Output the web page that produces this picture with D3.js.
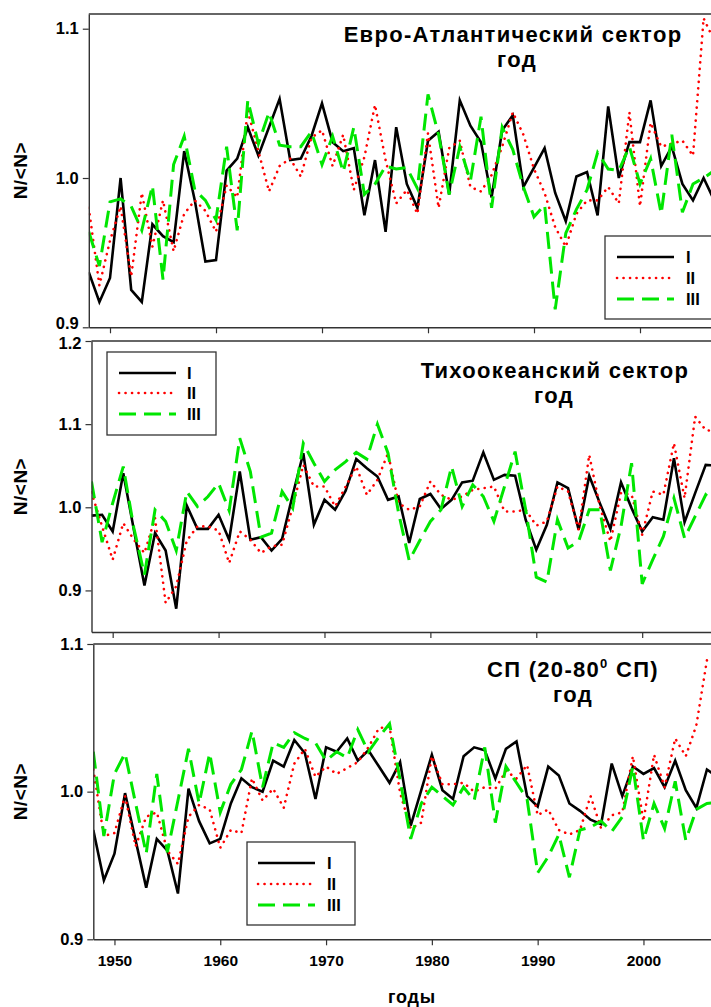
<!DOCTYPE html>
<html>
<head>
<meta charset="utf-8">
<script src="https://cdn.jsdelivr.net/npm/d3@7"></script>
<style>
  html, body { margin: 0; padding: 0; background: #fff; }
  svg { display: block; }
  text { font-family: "Liberation Sans", Arial, sans-serif; font-weight: bold; fill: #000; }
</style>
</head>
<body>
<svg id="chart" width="711" height="1007"></svg>
<script>
// ---- data ----
const years = [1948,1949,1950,1951,1952,1953,1954,1955,1956,1957,1958,1959,1960,1961,1962,1963,1964,1965,1966,1967,
  1968,1969,1970,1971,1972,1973,1974,1975,1976,1977,1978,1979,1980,1981,1982,1983,1984,1985,1986,1987,
  1988,1989,1990,1991,1992,1993,1994,1995,1996,1997,1998,1999,2000,2001,2002,2003,2004,2005,2006,2007];

const seriesNames = ["I", "II", "III"];

// Евро-Атлантический сектор
const euroI = [0.937,0.917,0.933,1.000,0.925,0.917,0.969,0.961,0.957,1.018,0.985,0.944,0.945,1.005,1.013,1.034,1.015,1.034,1.053,1.012,
  1.013,1.028,1.050,1.024,1.018,1.020,0.975,1.012,0.964,1.034,0.996,0.980,1.025,1.031,0.989,1.052,1.035,1.024,0.987,1.032,
  1.042,0.994,1.007,1.020,0.990,0.971,1.001,1.004,0.975,1.048,1.000,1.024,1.024,1.052,1.008,1.021,0.996,0.985,1.000,0.985];
const euroII = [0.980,0.928,0.958,0.981,0.934,0.990,0.954,0.985,0.951,0.976,0.985,0.978,0.964,0.995,0.987,1.045,1.018,0.991,1.008,1.013,
  1.001,1.027,1.032,1.008,1.029,0.992,1.014,1.049,1.012,0.983,0.992,0.976,1.030,0.980,1.020,1.025,0.994,0.991,1.002,1.021,
  1.044,1.029,1.006,0.990,0.967,0.954,0.976,0.985,0.985,0.994,0.983,1.044,0.981,1.037,1.021,1.023,1.025,1.015,1.107,1.092];
const euroIII = [0.964,0.941,0.984,0.986,0.981,0.965,0.995,0.932,1.009,1.028,0.992,0.985,0.972,1.021,0.965,1.052,1.023,1.044,1.022,1.021,
  1.021,1.031,1.009,1.028,1.004,1.034,0.989,0.996,1.008,1.006,1.007,0.993,1.056,1.029,0.989,1.021,0.998,1.041,0.980,1.034,
  1.019,0.994,0.974,0.982,0.912,0.963,0.979,0.992,1.017,1.006,1.005,1.021,0.996,1.013,0.976,1.029,0.977,0.996,1.000,1.005];

// Тихоокеанский сектор
const pacI = [0.990,0.991,0.971,1.041,0.973,0.906,0.969,0.948,0.878,1.002,0.974,0.974,0.991,0.961,1.043,0.961,0.964,0.948,0.962,1.015,
  1.065,0.979,1.009,0.997,1.020,1.058,1.047,1.037,1.009,1.013,0.957,1.010,1.016,0.998,1.009,1.030,1.032,1.066,1.033,1.039,
  1.038,0.985,0.949,0.979,1.030,1.023,0.973,1.038,1.005,0.974,1.030,0.999,0.971,0.988,0.985,1.059,0.982,1.017,1.051,1.050];
const pacII = [1.018,0.977,0.937,0.981,0.961,0.945,0.987,0.885,0.905,0.960,0.977,0.977,0.972,0.933,0.971,0.961,0.945,0.953,0.955,1.001,
  1.051,1.025,1.025,1.001,1.025,1.049,1.015,1.033,1.065,1.005,0.997,1.001,1.031,1.015,1.009,1.013,1.021,1.023,1.025,0.995,
  0.995,0.997,0.978,0.983,1.025,1.019,0.973,1.063,1.001,0.959,1.017,1.015,0.967,1.019,1.015,1.077,1.011,1.109,1.093,1.091];
const pacIII = [1.031,0.958,1.005,1.049,0.975,0.919,0.997,0.983,0.948,1.019,1.001,1.013,1.029,0.996,1.083,1.043,0.964,0.969,1.019,0.999,
  1.077,1.053,1.031,1.045,1.055,1.066,1.058,1.100,1.065,0.993,0.936,0.960,0.983,0.997,1.049,1.001,1.027,1.013,0.983,1.025,
  1.067,0.997,0.916,0.910,0.985,0.951,0.959,0.997,0.997,0.924,0.977,1.053,0.908,0.937,0.965,1.011,0.963,0.989,1.015,1.003];

// СП (20-80° СП)
const nhI = [0.974,0.940,0.958,0.999,0.967,0.935,0.968,0.960,0.931,1.002,0.980,0.965,0.968,0.992,1.009,1.003,1.000,1.021,1.017,1.035,
  1.026,0.995,1.030,1.027,1.036,1.021,1.028,1.017,1.006,1.020,0.977,1.001,1.025,1.001,0.995,1.024,1.030,1.028,1.009,1.029,
  1.034,0.997,0.990,1.017,1.011,0.992,0.987,0.981,0.978,1.019,0.997,1.017,1.012,1.016,1.003,1.021,1.001,0.989,1.015,1.010];
const nhII = [1.015,0.970,0.972,0.997,0.963,0.983,0.986,0.960,0.951,0.983,0.991,0.988,0.962,0.974,0.972,1.009,0.994,1.002,0.989,1.019,
  1.029,1.010,1.017,1.012,1.016,1.020,1.030,1.043,1.044,0.999,0.975,0.979,1.024,1.005,1.005,1.006,1.000,1.003,1.002,1.014,
  1.009,1.018,0.984,0.988,0.974,0.971,0.974,0.997,0.975,0.984,0.986,1.024,0.980,1.025,1.003,1.036,1.024,1.045,1.089,1.088];
const nhIII = [1.027,0.970,1.012,1.026,0.992,0.958,1.012,0.959,0.994,1.029,0.992,1.026,0.986,1.005,1.015,1.041,1.003,1.033,1.030,1.040,
  1.036,1.033,1.021,1.027,1.023,1.042,1.027,1.037,1.046,1.008,0.968,0.992,1.003,0.997,0.991,1.003,0.994,1.030,0.979,1.017,
  1.006,0.995,0.945,0.956,0.971,0.942,0.974,0.976,0.980,0.973,0.983,1.017,0.967,0.992,0.975,1.007,0.967,0.988,0.992,0.993];

const xTickValues = [1950, 1960, 1970, 1980, 1990, 2000];
const yTicksEuro = [0.9, 1.0, 1.1];
const yTicksPac = [0.9, 1.0, 1.1, 1.2];
const yTicksNH = [0.9, 1.0, 1.1];

const titlesEuro = ["Евро-Атлантический сектор", "год"];
const titlesPac = ["Тихоокеанский сектор", "год"];
const titlesNH = ["СП (20-80", "0", " СП)", "год"];
const yAxisTitle = "N/<N>";
const xAxisTitle = "годы";

// ---- styles ----
const lineStyles = [
  { color: "#000000", width: 2.6, dash: null, cap: "butt" },
  { color: "#ff0000", width: 2.6, dash: "0.1,6.4", cap: "round" },
  { color: "#00e600", width: 3.0, dash: "17,8", cap: "butt" }
];

const svg = d3.select("#chart");
const W = 711;
const FONT = '"Liberation Sans", Arial, sans-serif';

const panels = [
  { data: [euroI, euroII, euroIII], left: 88.8, step: 10.6, top: 14, bottom: 327.3, yDom: [0.9, 1.10985], yTicks: yTicksEuro,
    legend: { x: 605, y: 236, w: 120, h: 83, lx: 617, len: 57, tx: 686, rows: [257, 278, 299] } },
  { data: [pacI, pacII, pacIII], left: 91.5, step: 10.59, top: 341, bottom: 632, yDom: [0.85, 1.2], yTicks: yTicksPac,
    legend: { x: 107, y: 352, w: 109, h: 83, lx: 119, len: 57, tx: 187, rows: [373, 393, 414] } },
  { data: [nhI, nhII, nhIII], left: 93.3, step: 10.58, top: 644, bottom: 939.3, yDom: [0.9, 1.1], yTicks: yTicksNH,
    legend: { x: 247, y: 842, w: 108, h: 83, lx: 258, len: 57, tx: 327, rows: [863, 884, 905] } }
];

panels.forEach((p, pi) => {
  const x = d3.scaleLinear().domain([years[0], years[years.length - 1]])
    .range([p.left, p.left + (years[years.length - 1] - years[0]) * p.step]);
  const y = d3.scaleLinear().domain(p.yDom).range([p.bottom, p.top]);
  const g = svg.append("g");

  const clipId = "clip" + pi;
  svg.append("clipPath").attr("id", clipId).append("rect")
    .attr("x", p.left).attr("y", p.top - 2).attr("width", W - p.left).attr("height", p.bottom - p.top + 4);

  // series lines
  const lineGen = d3.line().x((d, i) => x(years[i])).y(d => y(d));
  p.data.forEach((series, si) => {
    const st = lineStyles[si];
    g.append("path")
      .attr("clip-path", `url(#${clipId})`)
      .attr("d", lineGen(series))
      .attr("fill", "none")
      .attr("stroke", st.color)
      .attr("stroke-width", st.width)
      .attr("stroke-linejoin", "miter")
      .attr("stroke-linecap", st.cap)
      .attr("stroke-dasharray", st.dash);
  });

  // frame top line
  g.append("line").attr("x1", p.left).attr("x2", W).attr("y1", p.top).attr("y2", p.top)
    .attr("stroke", "#333").attr("stroke-width", 1.4);

  // left axis
  const yAxis = d3.axisLeft(y).tickValues(p.yTicks).tickSizeInner(6).tickSizeOuter(0)
    .tickFormat(d3.format(".1f"));
  const ga = g.append("g").attr("transform", `translate(${p.left},0)`).call(yAxis);
  ga.select(".domain").attr("stroke", "#333").attr("stroke-width", 1.4);
  ga.selectAll(".tick line").attr("stroke", "#333").attr("stroke-width", 1.2);
  ga.selectAll(".tick text").attr("font-size", 16.5).attr("font-weight", "bold")
    .attr("font-family", FONT).attr("fill", "#000").attr("x", -10)
    .attr("dy", d => {
      if (pi === 0 && d === 0.9) return "0.1em";
      if (pi === 1 && d === 1.2) return "0.45em";
      return "0.32em";
    });

  // bottom axis
  const xAxis = d3.axisBottom(x).tickValues(xTickValues).tickSizeInner(6).tickSizeOuter(0)
    .tickFormat(d3.format("d"));
  const gx = g.append("g").attr("transform", `translate(0,${p.bottom})`).call(xAxis);
  gx.select(".domain").attr("stroke", "#333").attr("stroke-width", 1.4);
  gx.selectAll(".tick line").attr("stroke", "#333").attr("stroke-width", 1.2);
  if (pi < 2) {
    gx.selectAll(".tick text").remove();
  } else {
    gx.selectAll(".tick text").attr("font-size", 15.5).attr("font-weight", "bold")
      .attr("font-family", FONT).attr("fill", "#000").attr("y", 16);
  }

  // y-axis title
  g.append("text")
    .attr("transform", `translate(27,${(p.top + p.bottom) / 2}) rotate(-90)`)
    .attr("text-anchor", "middle")
    .attr("font-size", 19)
    .attr("letter-spacing", 0.5)
    .text(yAxisTitle);

  // legend
  const L = p.legend;
  g.append("rect").attr("x", L.x).attr("y", L.y).attr("width", L.w).attr("height", L.h)
    .attr("fill", "#fff").attr("stroke", "#333").attr("stroke-width", 1.3);
  seriesNames.forEach((nm, si) => {
    const st = lineStyles[si];
    g.append("line").attr("x1", L.lx).attr("x2", L.lx + L.len).attr("y1", L.rows[si]).attr("y2", L.rows[si])
      .attr("stroke", st.color).attr("stroke-width", st.width).attr("stroke-linecap", st.cap)
      .attr("stroke-dasharray", st.dash);
    g.append("text").attr("x", L.tx).attr("y", L.rows[si] + 6).attr("font-size", 16.5).text(nm);
  });
});

// titles
function title(txt, xPos, yPos) {
  return svg.append("text").attr("x", xPos).attr("y", yPos).attr("text-anchor", "middle")
    .attr("font-size", 22).attr("letter-spacing", 1.3).text(txt);
}
title(titlesEuro[0], 513, 42);
title(titlesEuro[1], 517, 67);
title(titlesPac[0], 555, 378);
title(titlesPac[1], 554, 403);
const t3 = svg.append("text").attr("x", 573).attr("y", 677).attr("text-anchor", "middle")
  .attr("font-size", 22).attr("letter-spacing", 1.3);
t3.append("tspan").text(titlesNH[0]);
t3.append("tspan").attr("font-size", 13).attr("dy", -9).text(titlesNH[1]);
t3.append("tspan").attr("dy", 9).text(titlesNH[2]);
title(titlesNH[3], 573, 702);

// x-axis title
svg.append("text").attr("x", 412).attr("y", 1003).attr("text-anchor", "middle")
  .attr("font-size", 18).attr("letter-spacing", 0.8).text(xAxisTitle);
</script>
</body>
</html>
